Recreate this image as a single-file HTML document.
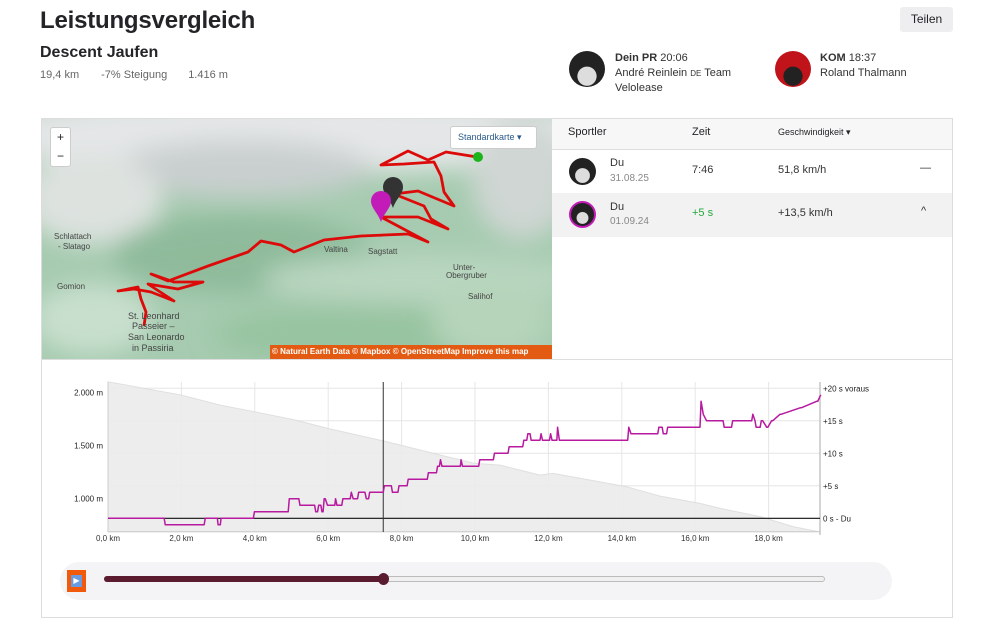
<!DOCTYPE html>
<html><head><meta charset="utf-8">
<style>
*{box-sizing:border-box;margin:0;padding:0}
body{width:1003px;height:603px;overflow:hidden;background:#fff;font-family:"Liberation Sans",sans-serif;color:#242428;position:relative}
.abs{position:absolute}
</style></head><body>
<div class="abs" style="left:40px;top:7px;font-size:24px;font-weight:bold;letter-spacing:-0.2px">Leistungsvergleich</div>
<div class="abs" style="left:900px;top:7px;width:53px;height:25px;background:#eeeef0;border-radius:3px;font-size:12px;text-align:center;line-height:25px">Teilen</div>
<div class="abs" style="left:40px;top:44px;font-size:16px;font-weight:bold">Descent Jaufen</div>
<div class="abs" style="left:40px;top:69px;font-size:11px;color:#666;word-spacing:0">19,4 km<span style="margin-left:22px">-7% Steigung</span><span style="margin-left:21px">1.416 m</span></div>

<div class="abs" style="left:569px;top:51px;width:36px;height:36px;border-radius:50%;background:radial-gradient(circle at 50% 70%,#ddd 0 30%,#222 32%)"></div>
<div class="abs" style="left:615px;top:51px;font-size:11px;line-height:15px;color:#333"><b>Dein PR</b> 20:06<br>André Reinlein <span style="font-size:8px">DE</span> Team<br>Velolease</div>
<div class="abs" style="left:775px;top:51px;width:36px;height:36px;border-radius:50%;background:radial-gradient(circle at 50% 70%,#222 0 30%,#c0141a 32%)"></div>
<div class="abs" style="left:820px;top:51px;font-size:11px;line-height:15px;color:#333"><b>KOM</b> 18:37<br>Roland Thalmann</div>

<div class="abs" style="left:41px;top:118px;width:912px;height:500px;border:1px solid #ddd"></div>

<!-- map -->
<div class="abs" style="left:42px;top:119px;width:510px;height:240px;overflow:hidden;background:#a9cdb2">
<svg width="510" height="240" style="position:absolute;left:0;top:0">
<defs><filter id="bl"><feGaussianBlur stdDeviation="12"/></filter></defs>
<rect width="510" height="240" fill="#a6cbb0"/>
<g filter="url(#bl)">
<ellipse cx="250" cy="15" rx="320" ry="40" fill="#e4e6e7"/>
<ellipse cx="200" cy="50" rx="130" ry="28" fill="#c9cfcf"/>
<ellipse cx="50" cy="80" rx="70" ry="45" fill="#dde2df"/>
<ellipse cx="480" cy="60" rx="50" ry="60" fill="#cfd6d3"/>
<ellipse cx="200" cy="135" rx="130" ry="40" fill="#8fbb9b"/>
<ellipse cx="380" cy="160" rx="160" ry="25" fill="#b9d6c0"/>
<ellipse cx="330" cy="215" rx="160" ry="30" fill="#98c4a1"/>
<ellipse cx="450" cy="200" rx="60" ry="40" fill="#b5d4ba"/>
<ellipse cx="50" cy="200" rx="60" ry="35" fill="#c8dfcd"/>
</g>
<polyline fill="none" stroke="#dd0a0a" stroke-width="2.8" stroke-linejoin="round" points="435,38 404,33 386,41 366,32 339,46 362,45 392,43 399,57 402,73 412,87 376,72 352,75 382,87 389,100 406,110 376,98 339,98 386,123 366,115 319,117 282,121 252,133 239,126 219,122 206,133 166,147 126,162 109,155 132,163 161,163 136,170 106,165 132,182 109,173 92,170 76,172 96,168 99,180 104,193 102,207"/>
<circle cx="436" cy="38" r="5" fill="#1bb51b"/>
<path d="M341,68 a10,10 0 1 1 20,0 c0,7 -7,12 -10,21 c-3,-9 -10,-14 -10,-21z" fill="#333"/>
<path d="M329,82 a10,10 0 1 1 20,0 c0,7 -7,12 -10,21 c-3,-9 -10,-14 -10,-21z" fill="#c21bb8"/>
<g font-size="8" fill="#444" font-family="Liberation Sans,sans-serif">
<text x="12" y="120">Schlattach</text><text x="16" y="130">- Slatago</text>
<text x="15" y="170">Gomion</text>
<text x="86" y="200" font-size="9">St. Leonhard</text><text x="90" y="210" font-size="9">Passeier –</text>
<text x="86" y="221" font-size="9">San Leonardo</text><text x="90" y="232" font-size="9">in Passiria</text>
<text x="282" y="133">Valtina</text><text x="326" y="135">Sagstatt</text>
<text x="411" y="151">Unter-</text><text x="404" y="159">Obergruber</text><text x="426" y="180">Salihof</text>
</g>
</svg>
<div class="abs" style="left:8px;top:8px;width:21px;height:40px;background:#fff;border:1px solid #ccc;border-radius:3px;font-size:12px;text-align:center;line-height:19px">+<br>−</div>
<div class="abs" style="left:408px;top:7px;width:87px;height:23px;background:#fff;border:1px solid #ccc;border-radius:3px;font-size:9px;color:#2a5a8a;line-height:21px;padding-left:7px">Standardkarte ▾</div>
<div class="abs" style="left:228px;top:226px;width:282px;height:14px;background:#e35b12;color:#fff;font-size:8px;font-weight:bold;line-height:14px;padding-left:2px;white-space:nowrap">© Natural Earth Data © Mapbox © OpenStreetMap Improve this map</div>
</div>

<!-- leaderboard -->
<div class="abs" style="left:552px;top:119px;width:400px;height:31px;background:#f7f7f7;border-bottom:1px solid #ddd;font-size:11px;line-height:27px">
<span class="abs" style="left:16px">Sportler</span><span class="abs" style="left:140px">Zeit</span><span class="abs" style="left:226px;font-size:9px">Geschwindigkeit ▾</span></div>
<div class="abs" style="left:552px;top:150px;width:400px;height:43px;font-size:11px;color:#333">
<div class="abs" style="left:17px;top:8px;width:27px;height:27px;border-radius:50%;background:radial-gradient(circle at 50% 65%,#ddd 0 32%,#222 35%)"></div>
<span class="abs" style="left:58px;top:7px">Du</span><span class="abs" style="left:58px;top:23px;font-size:10px;color:#888">31.08.25</span>
<span class="abs" style="left:140px;top:14px">7:46</span><span class="abs" style="left:226px;top:14px">51,8 km/h</span><span class="abs" style="left:368px;top:12px">—</span></div>
<div class="abs" style="left:552px;top:193px;width:400px;height:44px;background:#f2f2f2;font-size:11px;color:#333">
<div class="abs" style="left:17px;top:8px;width:27px;height:27px;border-radius:50%;border:2px solid #c21bb8;background:radial-gradient(circle at 50% 65%,#ddd 0 30%,#222 33%)"></div>
<span class="abs" style="left:58px;top:8px">Du</span><span class="abs" style="left:58px;top:23px;font-size:10px;color:#888">01.09.24</span>
<span class="abs" style="left:140px;top:14px;color:#24a83a">+5 s</span><span class="abs" style="left:226px;top:14px">+13,5 km/h</span><span class="abs" style="left:369px;top:12px">^</span></div>
<div class="abs" style="left:41px;top:359px;width:912px;height:1px;background:#ddd"></div>

<!-- chart -->
<svg class="abs" id="chart" style="left:0;top:0" width="1003" height="603"></svg>

<!-- slider -->
<div class="abs" style="left:60px;top:562px;width:832px;height:38px;background:#f4f4f6;border-radius:19px"></div>
<div class="abs" style="left:67px;top:570px;width:19px;height:22px;background:#f05a0a"><div style="margin:5px 0 0 4px;width:11px;height:12px;background:#6a9be0;color:#fff;font-size:8px;line-height:12px;text-align:center">▶</div></div>
<div class="abs" style="left:104px;top:576px;width:721px;height:6px;border:1px solid #bbb;border-radius:3px;background:#f0f0f0"></div>
<div class="abs" style="left:104px;top:576px;width:280px;height:6px;border-radius:3px;background:#5b1c30"></div>
<div class="abs" style="left:378px;top:573px;width:11px;height:12px;border-radius:50%;background:#5b1c30"></div>

<script>
const kmTicks=[0,2,4,6,8,10,12,14,16,18];
const elevTicks=[1000,1500,2000];
const deltaTicks=[0,5,10,15,20];
const deltaTickLabels=["0 s - Du","+5 s","+10 s","+15 s","+20 s voraus"];
const elevKm=[0,2,3.05,4,5.1,6,7.5,8.15,9.06,10,10.68,11.77,12.13,14.13,15.04,16.13,16.68,17.77,18.68,19.23,19.4];
const elevM=[2100,1975,1880,1817,1740,1660,1543,1487,1408,1330,1314,1220,1236,1110,1022,953,906,828,733,695,686];
const deltaKm=[0,1.53,1.56,2.62,2.65,2.98,3.0,3.06,3.08,3.96,3.99,4.91,4.94,5.2,5.23,5.63,5.66,5.71,5.74,5.8,5.83,5.86,5.89,5.92,5.98,6.0,6.18,6.2,6.24,6.37,6.4,6.6,6.63,6.68,6.72,6.8,6.83,7.0,7.04,7.1,7.13,7.5,7.53,7.72,7.75,7.9,7.93,8.15,8.18,8.7,8.73,8.95,8.98,9.03,9.06,9.1,9.6,9.62,9.66,10.1,10.13,10.5,10.53,10.9,10.93,11.3,11.33,11.41,11.44,11.5,11.53,11.77,11.8,11.84,12.03,12.06,12.1,12.23,12.25,12.3,14.16,14.19,14.25,14.98,15.01,15.1,15.13,15.22,15.25,16.13,16.16,16.22,16.31,16.34,16.76,16.79,16.99,17.02,17.54,17.57,17.63,17.66,17.77,17.8,17.84,17.95,17.98,18.08,18.11,18.31,18.34,18.86,18.89,19.31,19.34,19.42];
const deltaS=[0,0,-1,-1,0,0,-1,-1,0,0,1,1,3,3,2,2,1,1,2,2,1,1,3,3,2,2,2,3,2,2,3,3,4,3,3,3,4,4,3,3,4,4,5,5,4,4,5,5,6,6,7,7,8,8,9,8,8,9,8,8,9,9,10,10,11,11,12,12,13,13,12,12,13,12,12,13,12,12,14,12,12,14,13,13,14,14,13,13,14,14,18,16,15,15,15,14,14,15,15,16,15,14,14,15,15,14,14,15,15,16,16,17,17,18,18,19,19,20];
const cursorKm=7.5;
const NS='http://www.w3.org/2000/svg';
const svg=document.getElementById('chart');
const X0=108,PXKM=36.7;
const x=k=>X0+k*PXKM;
const yE=m=>531.7-(m-686)*0.106;
const yD=s=>518.3-s*6.5;
function mk(tag,attrs){const e=document.createElementNS(NS,tag);for(const k in attrs)e.setAttribute(k,attrs[k]);svg.appendChild(e);return e;}
kmTicks.forEach(k=>{const g=mk('line',{x1:x(k),x2:x(k),y1:382,y2:531,stroke:'#e6e6e6'});


const t=mk('text',{x:x(k),y:541,'font-size':8,'text-anchor':'middle',fill:'#333','font-family':'Liberation Sans,sans-serif'});t.textContent=(k.toFixed(1).replace('.',','))+' km';

});
deltaTicks.forEach((s,i)=>{if(s>0){const g=mk('line',{x1:108,x2:820,y1:yD(s),y2:yD(s),stroke:'#e6e6e6'});

}
const t=mk('text',{x:823,y:yD(s)+3,'font-size':8,fill:'#222','font-family':'Liberation Sans,sans-serif'});t.textContent=deltaTickLabels[i];

});
let d='M'+x(elevKm[0])+','+yE(686);elevKm.forEach((k,i)=>{d+=' L'+x(k)+','+yE(elevM[i]);});d+=' L'+x(elevKm[elevKm.length-1])+','+yE(686)+'Z';
const area=mk('path',{d:d,fill:'#ececec',stroke:'#dcdcdc','stroke-width':1,opacity:0.9});


elevTicks.forEach(m=>{const t=mk('text',{x:103,y:yE(m)+3,'font-size':8,'text-anchor':'end',fill:'#222','font-family':'Liberation Sans,sans-serif'});t.textContent=m.toLocaleString('de-DE')+' m';

});
const la=mk('line',{x1:108,x2:108,y1:382,y2:532,stroke:'#ccc'});


const ra=mk('line',{x1:820,x2:820,y1:382,y2:535,stroke:'#aaa'});


const ba=mk('line',{x1:108,x2:820,y1:531.7,y2:531.7,stroke:'#ccc'});


const zl=mk('line',{x1:108,x2:820,y1:yD(0),y2:yD(0),stroke:'#111','stroke-width':1.2});


const cl=mk('line',{x1:x(cursorKm),x2:x(cursorKm),y1:382,y2:532,stroke:'#333'});


const pts=deltaKm.map((k,i)=>x(k)+','+yD(deltaS[i])).join(' ');
const dl=mk('polyline',{points:pts,fill:'none',stroke:'#b7199f','stroke-width':1.5,'stroke-linejoin':'round'});


</script>
</body></html>
